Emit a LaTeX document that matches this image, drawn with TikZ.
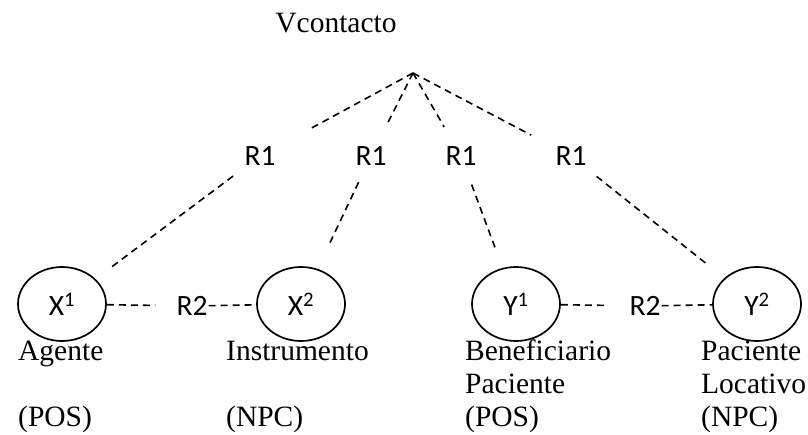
\documentclass[tikz,border=0pt]{standalone}
\usepackage{fontspec}
\setmainfont{Liberation Serif}
\newfontfamily\calfont{Carlito}
\usetikzlibrary{shapes.geometric}

\begin{document}
\begin{tikzpicture}[x=1pt,y=-1pt,
  lbl/.style={font=\fontsize{29.5}{33}\selectfont,inner sep=0pt,anchor=base west},
  rel/.style={font=\calfont\fontsize{29.5}{33}\selectfont,inner sep=2pt},
  arg/.style={draw,ellipse,line width=1.7pt,minimum width=88pt,minimum height=74pt,
    inner sep=0pt,font=\calfont\fontsize{29.5}{33}\selectfont},
  lnk/.style={dash pattern=on 7pt off 5pt,line width=1.6pt}]
  \useasboundingbox (0,0) rectangle (808,435);
  \node[lbl,anchor=base] (vc) at (336,33) {Vcontacto};
  \coordinate (v) at (413,73);
  \node[rel] (r1a) at (260,156) {R1};
  \node[rel] (r1b) at (371,156) {R1};
  \node[rel] (r1c) at (461,156) {R1};
  \node[rel] (r1d) at (571,156) {R1};
  \node[arg] (x1) at (62,304) {X\textsuperscript{1}};
  \node[arg] (x2) at (301,304) {X\textsuperscript{2}};
  \node[arg] (y1) at (516,304) {Y\textsuperscript{1}};
  \node[arg] (y2) at (757,304) {Y\textsuperscript{2}};
  \node[rel,inner sep=1pt] (r2a) at (192,306) {R2};
  \node[rel,inner sep=1pt] (r2b) at (645,306) {R2};
  \draw[lnk,shorten >=34pt] (v) -- (r1a);
  \draw[lnk,shorten >=21pt] (v) -- (r1b);
  \draw[lnk,shorten >=20pt] (v) -- (r1c);
  \draw[lnk,shorten >=25pt] (v) -- (r1d);
  \draw[lnk,shorten <=14pt,shorten >=20pt] (r1a) -- (x1);
  \draw[lnk,shorten <=16pt,shorten >=24pt] (r1b) -- (x2);
  \draw[lnk,shorten <=18pt,shorten >=21pt] (r1c) -- (y1);
  \draw[lnk,shorten <=14pt,shorten >=20pt] (r1d) -- (y2);
  \draw[lnk,shorten >=20pt] (x1) -- (r2a);
  \draw[lnk] (r2a) -- (x2);
  \draw[lnk,shorten >=20pt] (y1) -- (r2b);
  \draw[lnk] (r2b) -- (y2);
  \node[lbl] (ag) at (18,360) {Agente};
  \node[lbl] (in) at (226,360) {Instrumento};
  \node[lbl] (be) at (465,360) {Beneficiario};
  \node[lbl] (pa) at (701,360) {Paciente};
  \node[lbl] (pb) at (465,393) {Paciente};
  \node[lbl] (lo) at (701,393) {Locativo};
  \node[lbl] (ps1) at (18,426) {(POS)};
  \node[lbl] (np1) at (226,426) {(NPC)};
  \node[lbl] (ps2) at (465,426) {(POS)};
  \node[lbl] (np2) at (701,426) {(NPC)};
\end{tikzpicture}
\end{document}
